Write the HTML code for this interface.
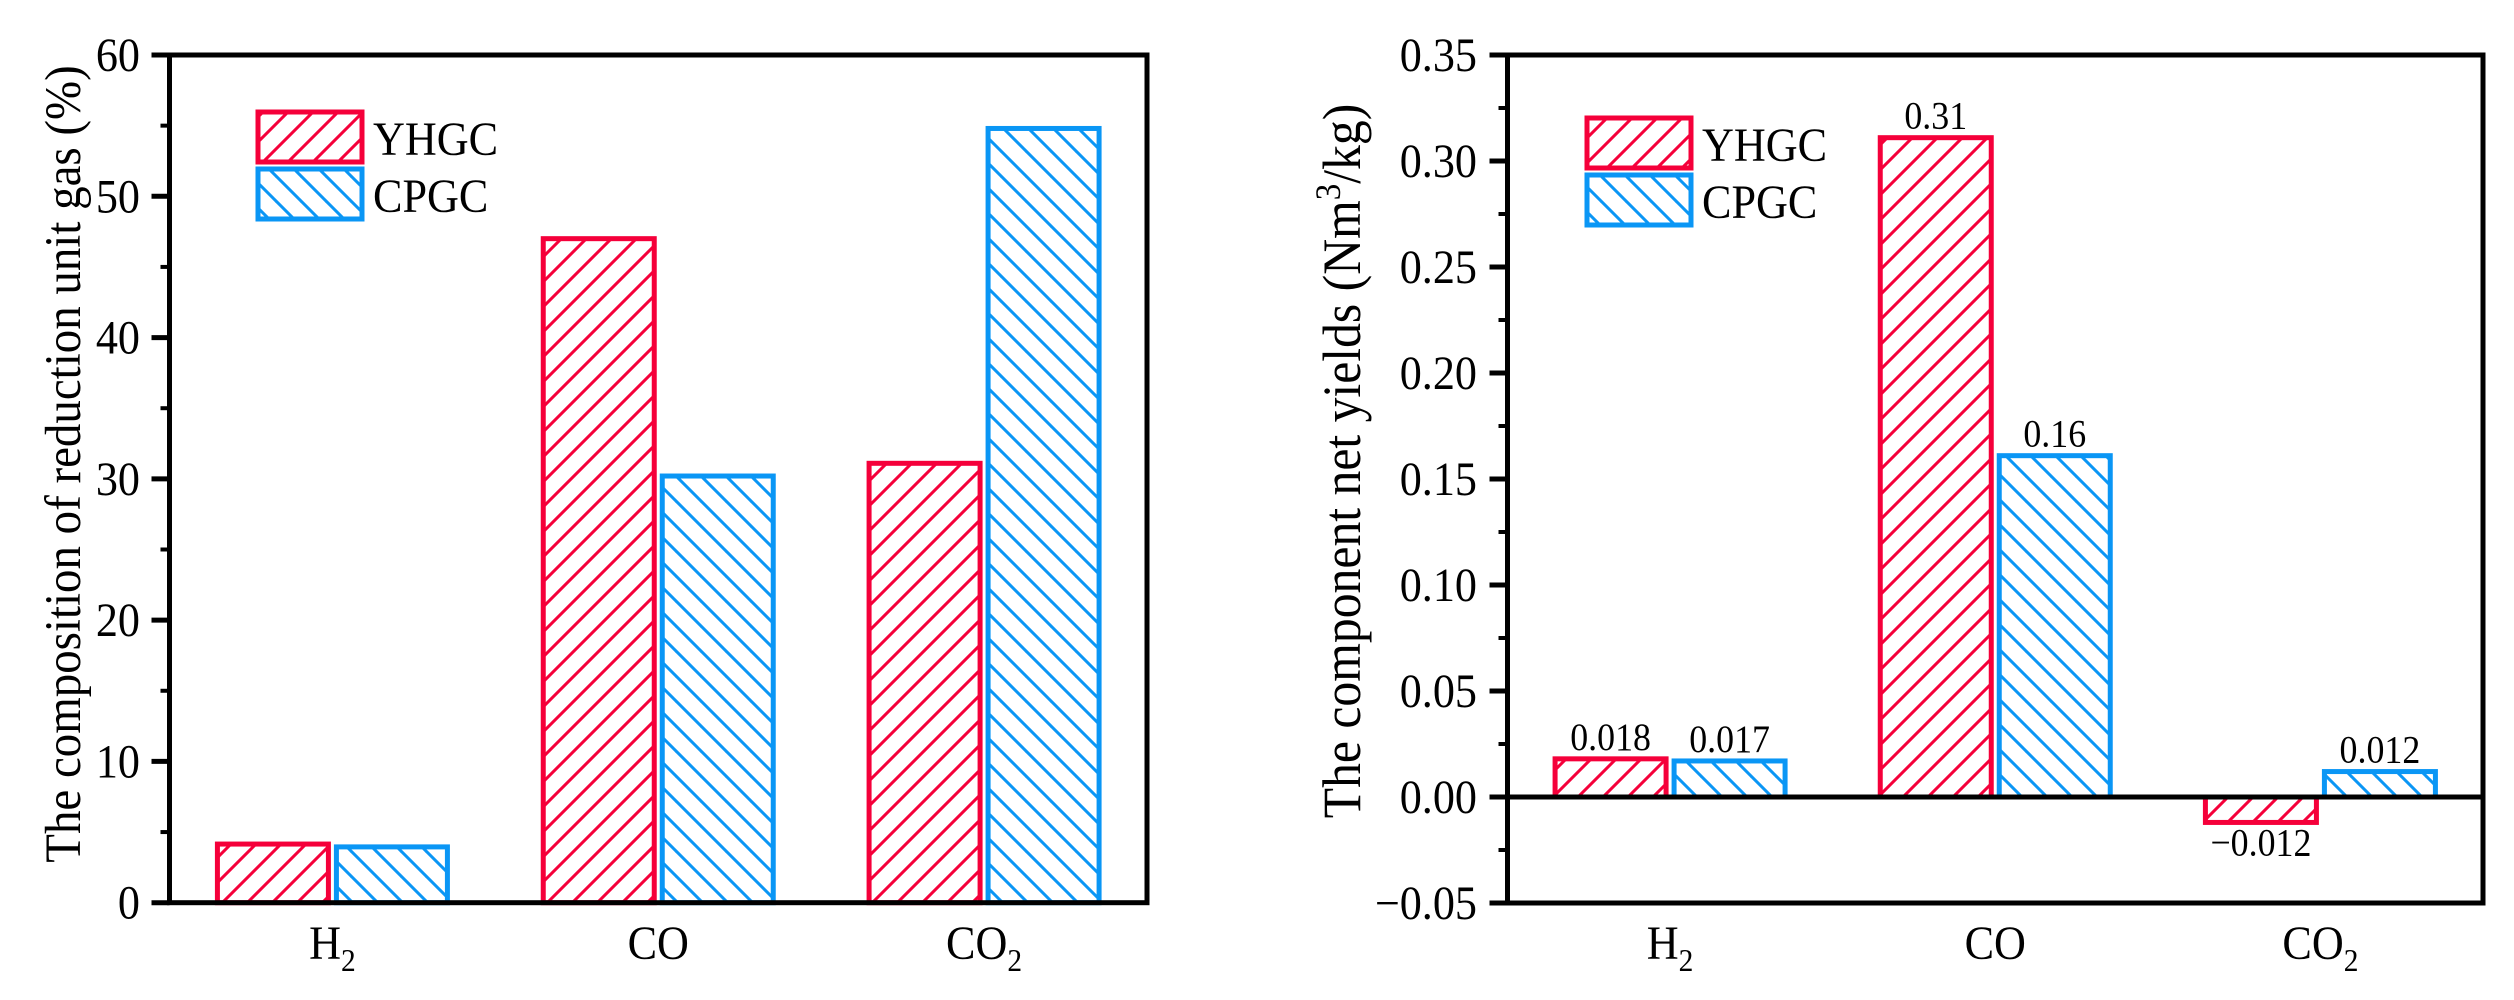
<!DOCTYPE html>
<html><head><meta charset="utf-8"><style>
html,body{margin:0;padding:0;background:#fff;}
svg{display:block;font-family:"Liberation Serif","Times New Roman",serif;}
</style></head><body>
<svg id="chart" width="2514" height="1000" viewBox="0 0 2514 1000" xmlns="http://www.w3.org/2000/svg">
<defs>
<pattern id="hatchRed" patternUnits="userSpaceOnUse" width="25" height="25">
<line x1="-5" y1="30" x2="30" y2="-5" stroke="#F5003A" stroke-width="3"/>
<line x1="-5" y1="5" x2="5" y2="-5" stroke="#F5003A" stroke-width="3"/>
<line x1="20" y1="30" x2="30" y2="20" stroke="#F5003A" stroke-width="3"/>
</pattern>
<pattern id="hatchBlue" patternUnits="userSpaceOnUse" width="25" height="25">
<line x1="-5" y1="-5" x2="30" y2="30" stroke="#0A96F5" stroke-width="3"/>
<line x1="20" y1="-5" x2="30" y2="5" stroke="#0A96F5" stroke-width="3"/>
<line x1="-5" y1="20" x2="5" y2="30" stroke="#0A96F5" stroke-width="3"/>
</pattern>
</defs>
<g id="left"></g>
<g id="right"></g>
</svg>
<script>
const categories = ["H2", "CO", "CO2"];
const leftYHGC = [4.15, 47.0, 31.1];
const leftCPGC = [3.95, 30.2, 54.8];
const leftTicks = [0, 10, 20, 30, 40, 50, 60];
const rightYHGC = [0.018, 0.311, -0.012];
const rightCPGC = [0.017, 0.161, 0.012];
const rightYHGCLabels = ["0.018", "0.31", "\u22120.012"];
const rightCPGCLabels = ["0.017", "0.16", "0.012"];
const rightTicks = [-0.05, 0, 0.05, 0.10, 0.15, 0.20, 0.25, 0.30, 0.35];
const rightTickLabels = ["\u22120.05", "0.00", "0.05", "0.10", "0.15", "0.20", "0.25", "0.30", "0.35"];

const NS = "http://www.w3.org/2000/svg";
const RED = "#F5003A", BLUE = "#0A96F5";
const FS = 48, SX = 0.92;
function mk(parent, tag, attrs, text) {
  const e = document.createElementNS(NS, tag);
  for (const k in attrs) e.setAttribute(k, attrs[k]);
  if (text !== undefined) e.textContent = text;
  parent.appendChild(e);
  return e;
}
function sxText(parent, x, y, anchor, fs, txt) {
  return mk(parent, "text", {x: 0, y: 0, "text-anchor": anchor, "font-size": fs, fill: "#000",
    transform: "translate(" + x + "," + y + ") scale(" + SX + ",1)"}, txt);
}
function catLabel(g, name, x, y) {
  const t = sxText(g, x, y, "middle", FS);
  
  
  if (name.endsWith("2")) {
    mk(t, "tspan", {}, name.slice(0, -1));
    mk(t, "tspan", {"font-size": 32, dy: 12}, "2");
  } else t.textContent = name;
}

function drawChart(g, opt) {
  const L = opt.L, R = opt.R, T = opt.T, B = opt.B;
  const ymin = opt.ymin, ymax = opt.ymax;
  const y = v => B - (v - ymin) / (ymax - ymin) * (B - T);
  const bw = (R - L) / categories.length;
  const xc = i => L + bw * (i + 0.5);
  for (let v = ymin; v <= ymax + 1e-9; v += opt.minor) {
    const tk = mk(g, "line", {x1: L - 9, x2: L, y1: y(v), y2: y(v), stroke: "#000", "stroke-width": 4});
    
    
  }
  opt.ticks.forEach((v, i) => {
    const tk = mk(g, "line", {x1: L - 18, x2: L, y1: y(v), y2: y(v), stroke: "#000", "stroke-width": 5});
    
    
    const tl = sxText(g, opt.labelX, y(v) + 16, "end", FS, opt.tickLabels[i]);
    
    
  });
  const series = [[opt.a, "url(#hatchRed)", RED, -115, opt.aLab], [opt.b, "url(#hatchBlue)", BLUE, 4, opt.bLab]];
  series.forEach((s, si) => {
    s[0].forEach((v, i) => {
      const x = xc(i) + s[3];
      const y0 = y(0), y1 = y(v);
      const r = mk(g, "rect", {x: x, y: Math.min(y0, y1), width: 111, height: Math.abs(y1 - y0), fill: s[1], stroke: s[2], "stroke-width": 5});
      
      
      if (s[4]) {
        const ly = v >= 0 ? y1 - 9 : y1 + 33;
        const vl = sxText(g, x + 55.5, ly, "middle", 39, s[4][i]);
        
        
      }
    });
  });
  if (opt.zeroLine) {
    const z = mk(g, "line", {x1: L, x2: R, y1: y(0), y2: y(0), stroke: "#000", "stroke-width": 5});
    
    
  }
  const fr = mk(g, "rect", {x: L, y: T, width: R - L, height: B - T, fill: "none", stroke: "#000", "stroke-width": 5});
  
  
  categories.forEach((c, i) => catLabel(g, c, xc(i), 959));
  const lg = mk(g, "g", {});
  
  
  [["YHGC", "url(#hatchRed)", RED], ["CPGC", "url(#hatchBlue)", BLUE]].forEach((e, i) => {
    const ey = opt.legY + i * 57;
    const sw = mk(lg, "rect", {x: opt.legX, y: ey, width: 104, height: 50, fill: e[1], stroke: e[2], "stroke-width": 5});
    
    
    const lt = sxText(lg, opt.legX + 115, ey + 43, "start", FS, e[0]);
    
    
  });
  const tt = mk(g, "text", {x: 0, y: 0, "text-anchor": "middle", "font-size": opt.titleFS, fill: "#000",
    transform: "translate(" + opt.titleX + "," + opt.titleY + ") rotate(-90) scale(" + SX + ",1)"});
  
  
  opt.title(tt);
}

drawChart(document.getElementById("left"), {
  L: 169.5, R: 1147, T: 55, B: 902.7, ymin: 0, ymax: 60, minor: 5,
  ticks: leftTicks, tickLabels: leftTicks.map(String), labelX: 140,
  a: leftYHGC, b: leftCPGC, legX: 258, legY: 112, titleX: 80, titleY: 464, titleFS: 51,
  title: t => { t.textContent = "The composition of reduction unit gas (%)"; }
});
drawChart(document.getElementById("right"), {
  L: 1507.5, R: 2483, T: 55, B: 903, ymin: -0.05, ymax: 0.35, minor: 0.025,
  ticks: rightTicks, tickLabels: rightTickLabels, labelX: 1477,
  a: rightYHGC, b: rightCPGC, aLab: rightYHGCLabels, bLab: rightCPGCLabels, zeroLine: true,
  legX: 1587, legY: 118, titleX: 1360, titleY: 461, titleFS: 54,
  title: t => {
    mk(t, "tspan", {}, "The component net yields (Nm");
    mk(t, "tspan", {"font-size": 36, dy: -20}, "3");
    mk(t, "tspan", {dy: 20}, "/kg)");
  }
});
</script>
</body></html>
